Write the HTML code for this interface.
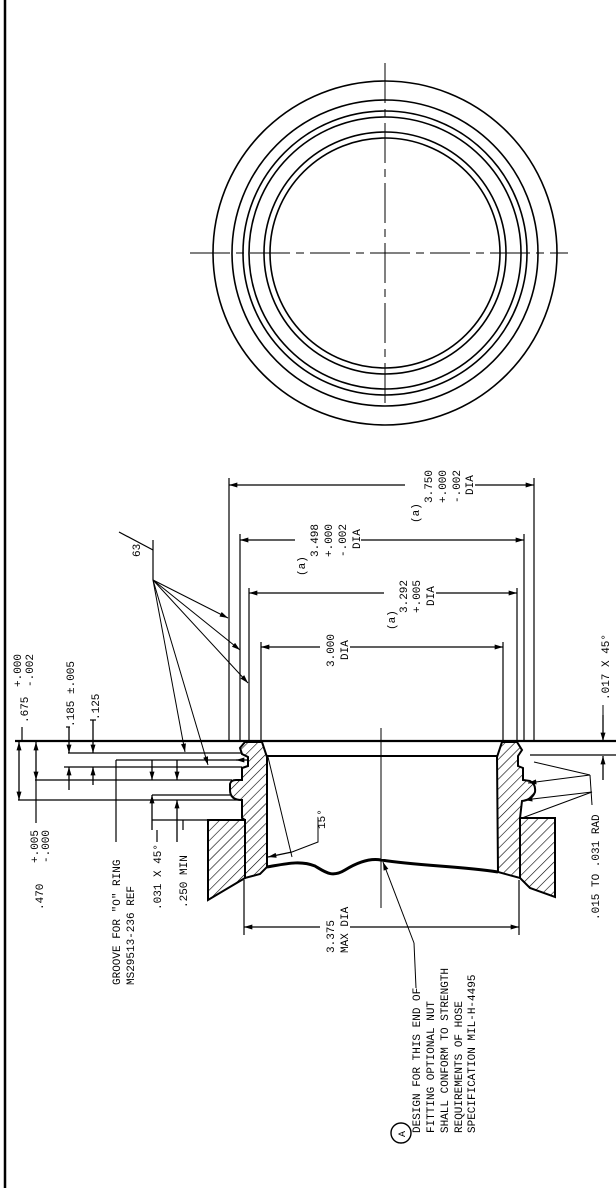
<!DOCTYPE html>
<html><head><meta charset="utf-8"><style>
html,body{margin:0;padding:0;background:#fff;}
svg{display:block;}
text{font-family:"Liberation Mono",monospace;font-size:11px;fill:#000;}
</style></head><body>
<svg width="616" height="1188" viewBox="0 0 616 1188" xmlns="http://www.w3.org/2000/svg">
<defs>
<pattern id="h" width="7" height="7" patternUnits="userSpaceOnUse" patternTransform="rotate(45)">
<rect width="7" height="7" fill="#fff"/><line x1="0" y1="0" x2="0" y2="7" stroke="#000" stroke-width="1.2"/>
</pattern>
<marker id="a" viewBox="0 0 10 6" refX="10" refY="3" markerWidth="10" markerHeight="5" orient="auto-start-reverse" markerUnits="userSpaceOnUse">
<path d="M0,0 L10,3 L0,6 Z" fill="#000"/></marker>
</defs>
<line x1="5" y1="0" x2="5" y2="1188" stroke="#000" stroke-width="2.5"/>

<g fill="none" stroke="#000" stroke-width="1.6">
<circle cx="385" cy="253" r="172"/>
<circle cx="385" cy="253" r="153"/>
<circle cx="385" cy="253" r="142"/>
<circle cx="385" cy="253" r="136"/>
<circle cx="385" cy="253" r="121"/>
<circle cx="385" cy="253" r="115"/>
</g>
<line x1="190" y1="253" x2="568" y2="253" stroke="#000" stroke-width="1" stroke-dasharray="40,6,8,6"/>
<line x1="385" y1="63" x2="385" y2="405" stroke="#000" stroke-width="1" stroke-dasharray="40,6,8,6"/>

<g stroke="#000" stroke-width="1.2" fill="none">
<line x1="229" y1="478" x2="229" y2="742"/>
<line x1="240" y1="534" x2="240" y2="742"/>
<line x1="249" y1="588" x2="249" y2="742"/>
<line x1="261" y1="642" x2="261" y2="742"/>
<line x1="534" y1="478" x2="534" y2="742"/>
<line x1="524" y1="534" x2="524" y2="742"/>
<line x1="517" y1="588" x2="517" y2="742"/>
<line x1="503" y1="642" x2="503" y2="742"/>
<line x1="244" y1="880" x2="244" y2="935"/>
<line x1="519" y1="880" x2="519" y2="935"/>
</g>
<g stroke="#000" stroke-width="1.2" marker-start="url(#a)" marker-end="url(#a)">
<line x1="229" y1="485" x2="534" y2="485"/>
<line x1="240" y1="540" x2="524" y2="540"/>
<line x1="249" y1="593" x2="517" y2="593"/>
<line x1="261" y1="647" x2="503" y2="647"/>
<line x1="244" y1="927" x2="519" y2="927"/>
</g>
<g fill="#fff">
<rect x="405" y="470" width="70" height="36"/>
<rect x="295" y="522" width="66" height="40"/>
<rect x="384" y="576" width="52" height="40"/>
<rect x="320" y="630" width="30" height="38"/>
<rect x="320" y="903" width="30" height="52"/>
</g>
<text transform="translate(419,523) rotate(-90)">(a)</text>
<text transform="translate(432,503) rotate(-90)">3.750</text>
<text transform="translate(446,503) rotate(-90)">+.000</text>
<text transform="translate(460,503) rotate(-90)">-.002</text>
<text transform="translate(473,495) rotate(-90)">DIA</text>
<text transform="translate(305,576) rotate(-90)">(a)</text>
<text transform="translate(318,557) rotate(-90)">3.498</text>
<text transform="translate(332,557) rotate(-90)">+.000</text>
<text transform="translate(346,557) rotate(-90)">-.002</text>
<text transform="translate(360,549) rotate(-90)">DIA</text>
<text transform="translate(395,630) rotate(-90)">(a)</text>
<text transform="translate(407,613) rotate(-90)">3.292</text>
<text transform="translate(420,613) rotate(-90)">+.005</text>
<text transform="translate(434,606) rotate(-90)">DIA</text>
<text transform="translate(334,667) rotate(-90)">3.000</text>
<text transform="translate(348,660) rotate(-90)">DIA</text>
<text transform="translate(334,953) rotate(-90)">3.375</text>
<text transform="translate(348,953) rotate(-90)">MAX DIA</text>

<line x1="15" y1="741" x2="616" y2="741" stroke="#000" stroke-width="2.2"/>
<line x1="530" y1="755" x2="616" y2="755" stroke="#000" stroke-width="1.2"/>
<line x1="381" y1="728" x2="381" y2="908" stroke="#000" stroke-width="1"/>

<g stroke="#000" stroke-width="1.2" fill="none">
<line x1="68" y1="753" x2="243" y2="753"/>
<line x1="116" y1="760" x2="242" y2="760"/>
<line x1="116" y1="760" x2="116" y2="842"/>
<line x1="64" y1="767" x2="242" y2="767"/>
<line x1="35" y1="780" x2="232" y2="780"/>
<line x1="152" y1="795" x2="230" y2="795"/>
<line x1="18" y1="800" x2="245" y2="800"/>
<line x1="245" y1="800" x2="245" y2="820"/>
<line x1="152" y1="820" x2="208" y2="820"/>
<line x1="36" y1="780" x2="36" y2="823"/>
<line x1="22" y1="727" x2="22" y2="741"/>
<line x1="66" y1="727" x2="70" y2="727"/>
<line x1="90" y1="720" x2="96" y2="720"/>
<line x1="157" y1="830" x2="157" y2="842"/>
<line x1="183" y1="820" x2="183" y2="830"/>
</g>
<g stroke="#000" stroke-width="1.3" marker-end="url(#a)">
<line x1="19" y1="770" x2="19" y2="742"/>
<line x1="19" y1="770" x2="19" y2="800"/>
<line x1="36" y1="762" x2="36" y2="742"/>
<line x1="36" y1="762" x2="36" y2="780"/>
<line x1="69" y1="727" x2="69" y2="753"/>
<line x1="69" y1="790" x2="69" y2="767"/>
<line x1="93" y1="720" x2="93" y2="753"/>
<line x1="93" y1="785" x2="93" y2="767"/>
<line x1="152" y1="760" x2="152" y2="780"/>
<line x1="152" y1="830" x2="152" y2="795"/>
<line x1="177" y1="760" x2="177" y2="780"/>
<line x1="177" y1="842" x2="177" y2="800"/>
</g>
<text transform="translate(28,723) rotate(-90)">.675</text>
<text transform="translate(21,687) rotate(-90)">+.000</text>
<text transform="translate(33,687) rotate(-90)">-.002</text>
<text transform="translate(74,727) rotate(-90)">.185 ±.005</text>
<text transform="translate(99,720) rotate(-90)">.125</text>
<text transform="translate(43,910) rotate(-90)">.470</text>
<text transform="translate(38,863) rotate(-90)">+.005</text>
<text transform="translate(49,863) rotate(-90)">-.000</text>
<text transform="translate(120,985) rotate(-90)">GROOVE FOR "O" RING</text>
<text transform="translate(134,985) rotate(-90)">MS29513-236 REF</text>
<text transform="translate(161,910) rotate(-90)">.031 X 45°</text>
<text transform="translate(187,908) rotate(-90)">.250 MIN</text>

<g stroke="#000" stroke-width="1.2" fill="none">
<line x1="119" y1="532" x2="153" y2="550"/>
<line x1="153" y1="540" x2="153" y2="580"/>
</g>
<text transform="translate(140,557) rotate(-90)">63</text>
<g stroke="#000" stroke-width="1" marker-end="url(#a)">
<line x1="153" y1="580" x2="228" y2="618"/>
<line x1="153" y1="580" x2="240" y2="650"/>
<line x1="153" y1="580" x2="248" y2="683"/>
<line x1="153" y1="580" x2="185" y2="752"/>
<line x1="153" y1="580" x2="208" y2="765"/>
</g>
<line x1="255" y1="760" x2="236" y2="760" stroke="#000" stroke-width="1.3" marker-end="url(#a)"/>

<g stroke="#000" stroke-width="2" fill="url(#h)">
<path d="M245,742 L262,742 L267,757 L267,867 L260,874 L245,878 L245,820 L242,818 L242,800 Q230,800 230,790 L230,784 Q231,780 236,780 L242,780 L242,768 L248,766 L248,757 L242,754 L240,748 Z"/>
<path d="M208,820 L245,820 L245,878 L208,900 Z"/>
<path d="M502,742 L517,742 L522,750 L518,756 L518,766 L523,768 L523,780 L530,781 Q536,784 535,792 Q532,800 522,801 L520,818 L520,878 L498,872 L497,757 Z"/>
<path d="M520,818 L555,818 L555,897 L530,888 L520,878 Z"/>
</g>
<line x1="267" y1="756" x2="498" y2="756" stroke="#000" stroke-width="2"/>
<path d="M267,867 C285,864 300,860 315,866 C325,872 332,878 345,870 C358,862 370,858 381,860 C420,866 460,866 498,872" stroke="#000" stroke-width="3" fill="none"/>

<path d="M268,757 L292,857" stroke="#000" stroke-width="1" fill="none"/>
<path d="M318,818 L318,842 L292,852" stroke="#000" stroke-width="1" fill="none"/>
<line x1="292" y1="852" x2="268" y2="857" stroke="#000" stroke-width="1.3" marker-end="url(#a)"/>
<text transform="translate(325,829) rotate(-90)">15°</text>

<g stroke="#000" stroke-width="1" fill="none">
<line x1="534" y1="762" x2="590" y2="775"/>
<line x1="590" y1="775" x2="592" y2="805"/>
<line x1="592" y1="792" x2="522" y2="818"/>
</g>
<g stroke="#000" stroke-width="1" marker-end="url(#a)">
<line x1="590" y1="775" x2="528" y2="783"/>
<line x1="592" y1="792" x2="524" y2="800"/>
</g>
<text transform="translate(599,920) rotate(-90)">.015 TO .031 RAD</text>
<g stroke="#000" stroke-width="1.3" marker-end="url(#a)">
<line x1="603" y1="715" x2="603" y2="741"/>
<line x1="603" y1="780" x2="603" y2="756"/>
</g>
<line x1="603" y1="705" x2="603" y2="715" stroke="#000" stroke-width="1"/>
<text transform="translate(609,700) rotate(-90)">.017 X 45°</text>

<line x1="383" y1="862" x2="414" y2="943" stroke="#000" stroke-width="1" marker-start="url(#a)"/>
<line x1="414" y1="943" x2="416" y2="988" stroke="#000" stroke-width="1"/>
<circle cx="401" cy="1133" r="10" fill="none" stroke="#000" stroke-width="1.4"/>
<text transform="translate(405,1137) rotate(-90)" style="font-size:10px">A</text>
<text transform="translate(420,1133) rotate(-90)">DESIGN FOR THIS END OF</text>
<text transform="translate(434,1133) rotate(-90)">FITTING OPTIONAL NUT</text>
<text transform="translate(448,1133) rotate(-90)">SHALL CONFORM TO STRENGTH</text>
<text transform="translate(462,1133) rotate(-90)">REQUIREMENTS OF HOSE</text>
<text transform="translate(475,1133) rotate(-90)">SPECIFICATION MIL-H-4495</text>
</svg>
</body></html>
